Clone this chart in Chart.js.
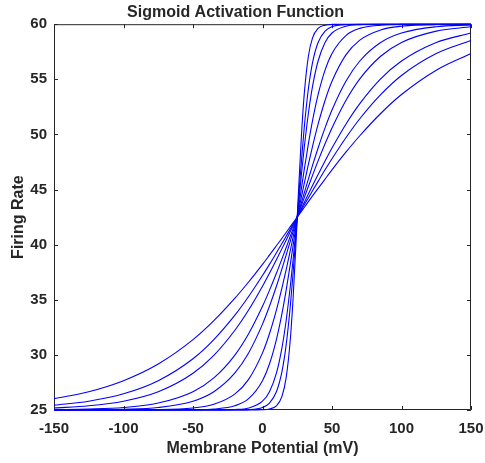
<!DOCTYPE html>
<html>
<head>
<meta charset="utf-8">
<title>Sigmoid Activation Function</title>
<script src="https://cdn.jsdelivr.net/npm/chart.js@4/dist/chart.umd.min.js"></script>
<style>
  html, body { margin: 0; padding: 0; background: #ffffff; }
  canvas { display: block; }
</style>
</head>
<body>
<canvas id="chart" width="485" height="463"></canvas>
<script>
// membrane potential samples (mV), denser around the midpoint
const potentials = [-150, -125, -100, -75, -50, -35, -20, -10, 0, 5, 10, 14, 17, 20, 22, 24, 25, 26, 28, 30, 33, 36, 40, 45, 50, 60, 70, 85, 100, 125, 150];

// firing rate per curve, shallowest to steepest
const rateSlope50 = [26.03, 26.66, 27.66, 29.17, 31.38, 33.10, 35.12, 36.61, 38.21, 39.05, 39.90, 40.58, 41.10, 41.63, 41.98, 42.33, 42.5, 42.67, 43.02, 43.37, 43.90, 44.42, 45.10, 45.95, 46.79, 48.39, 49.88, 51.90, 53.62, 55.83, 57.34];
const rateSlope40 = [25.44, 25.80, 26.47, 27.66, 29.65, 31.39, 33.58, 35.30, 37.20, 38.21, 39.26, 40.11, 40.76, 41.41, 41.84, 42.28, 42.5, 42.72, 43.16, 43.59, 44.24, 44.89, 45.74, 46.79, 47.80, 49.70, 51.42, 53.61, 55.35, 57.34, 58.53];
const rateSlope33 = [25.18, 25.38, 25.80, 26.66, 28.34, 29.96, 32.21, 34.07, 36.23, 37.40, 38.63, 39.64, 40.41, 41.19, 41.71, 42.24, 42.5, 42.76, 43.29, 43.81, 44.59, 45.36, 46.37, 47.60, 48.77, 50.93, 52.79, 55.04, 56.66, 58.34, 59.20];
const rateSlope25 = [25.03, 25.09, 25.23, 25.63, 26.66, 27.91, 29.96, 31.92, 34.41, 35.85, 37.40, 38.71, 39.72, 40.76, 41.45, 42.15, 42.5, 42.85, 43.55, 44.24, 45.28, 46.29, 47.60, 49.15, 50.59, 53.08, 55.04, 57.09, 58.34, 59.37, 59.77];
const rateSlope20 = [25.01, 25.02, 25.07, 25.23, 25.80, 26.66, 28.34, 30.18, 32.79, 34.41, 36.23, 37.81, 39.05, 40.32, 41.19, 42.06, 42.5, 42.94, 43.81, 44.68, 45.95, 47.19, 48.77, 50.59, 52.21, 54.82, 56.66, 58.34, 59.20, 59.77, 59.93];
const rateSlope14 = [25.00, 25.00, 25.01, 25.03, 25.18, 25.52, 26.44, 27.78, 30.18, 31.92, 34.07, 36.08, 37.72, 39.47, 40.67, 41.89, 42.5, 43.11, 44.33, 45.53, 47.28, 48.92, 50.93, 53.08, 54.82, 57.22, 58.56, 59.48, 59.82, 59.97, 59.99];
const rateSlope10 = [25.00, 25.00, 25.00, 25.00, 25.02, 25.09, 25.38, 26.03, 27.66, 29.17, 31.39, 33.74, 35.85, 38.21, 39.89, 41.63, 42.5, 43.37, 45.11, 46.79, 49.15, 51.26, 53.61, 55.83, 57.34, 58.97, 59.62, 59.91, 59.98, 60.00, 60.00];
const rateSlope7 = [25.00, 25.00, 25.00, 25.00, 25.00, 25.00, 25.04, 25.18, 25.80, 26.66, 28.34, 30.64, 33.10, 36.23, 38.63, 41.19, 42.5, 43.81, 46.37, 48.77, 51.90, 54.36, 56.66, 58.34, 59.20, 59.82, 59.96, 60.00, 60.00, 60.00, 60.00];
const rateSlope5 = [25.00, 25.00, 25.00, 25.00, 25.00, 25.00, 25.00, 25.03, 25.23, 25.63, 26.66, 28.49, 30.88, 34.41, 37.40, 40.76, 42.5, 44.24, 47.60, 50.59, 54.12, 56.51, 58.34, 59.37, 59.77, 59.97, 60.00, 60.00, 60.00, 60.00, 60.00];
const rateSlope3 = [25.00, 25.00, 25.00, 25.00, 25.00, 25.00, 25.00, 25.00, 25.02, 25.09, 25.38, 26.24, 27.91, 31.39, 35.12, 39.89, 42.5, 45.11, 49.88, 53.61, 57.09, 58.76, 59.62, 59.91, 59.98, 60.00, 60.00, 60.00, 60.00, 60.00, 60.00];

const allRates = [rateSlope50, rateSlope40, rateSlope33, rateSlope25, rateSlope20, rateSlope14, rateSlope10, rateSlope7, rateSlope5, rateSlope3];

const xTicks = [-150, -100, -50, 0, 50, 100, 150];
const yTicks = [25, 30, 35, 40, 45, 50, 55, 60];

const textColor = "#262626";
const fontFamily = "'Liberation Sans', Arial, Helvetica, sans-serif";

// MATLAB-style box with inward tick marks on all four sides
const boxTicks = {
  id: "boxTicks",
  beforeDatasetsDraw(chart) {
    const { ctx, chartArea: a, scales } = chart;
    const len = 4;
    ctx.save();
    ctx.strokeStyle = textColor;
    ctx.lineWidth = 1;
    ctx.beginPath();
    ctx.rect(a.left + 0.5, a.top + 0.5, a.right - a.left - 1, a.bottom - a.top - 1);
    xTicks.forEach((v) => {
      const px = Math.round(scales.x.getPixelForValue(v)) + 0.5;
      ctx.moveTo(px, a.bottom);
      ctx.lineTo(px, a.bottom - len);
      ctx.moveTo(px, a.top);
      ctx.lineTo(px, a.top + len);
    });
    yTicks.forEach((v) => {
      const py = Math.round(scales.y.getPixelForValue(v)) + 0.5;
      ctx.moveTo(a.left, py);
      ctx.lineTo(a.left + len, py);
      ctx.moveTo(a.right, py);
      ctx.lineTo(a.right - len, py);
    });
    ctx.stroke();
    ctx.restore();
  },
};

new Chart(document.getElementById("chart"), {
  type: "line",
  data: {
    datasets: allRates.map((rates) => ({
      data: potentials.map((x, i) => ({ x, y: rates[i] })),
      borderColor: "#0000ff",
      borderWidth: 1.1,
      pointRadius: 0,
      cubicInterpolationMode: "monotone",
      clip: 3,
    })),
  },
  options: {
    responsive: false,
    animation: false,
    events: [],
    layout: { padding: { top: 0, right: 14, bottom: 0, left: 0 } },
    plugins: {
      legend: { display: false },
      tooltip: { enabled: false },
      title: {
        display: true,
        text: "Sigmoid Activation Function",
        color: textColor,
        font: { family: fontFamily, size: 16, weight: "bold" },
        padding: { top: 3, bottom: 2 },
      },
    },
    scales: {
      x: {
        type: "linear",
        min: -150,
        max: 150,
        afterFit: (scale) => {
          scale.height = 53;
          scale.paddingLeft = 0;
          scale.paddingRight = 0;
        },
        afterBuildTicks: (scale) => { scale.ticks = xTicks.map((value) => ({ value })); },
        grid: { display: false, drawTicks: false },
        border: { display: false },
        ticks: {
          color: textColor,
          padding: 10,
          maxRotation: 0,
          font: { family: fontFamily, size: 15, weight: "bold" },
        },
        title: {
          display: true,
          text: "Membrane Potential (mV)",
          color: textColor,
          font: { family: fontFamily, size: 16, weight: "bold" },
          padding: { top: 0, bottom: 5 },
        },
      },
      y: {
        type: "linear",
        min: 25,
        max: 60,
        afterFit: (scale) => {
          scale.width = 54;
          scale.paddingTop = 0;
          scale.paddingBottom = 0;
        },
        afterBuildTicks: (scale) => { scale.ticks = yTicks.map((value) => ({ value })); },
        grid: { display: false, drawTicks: false },
        border: { display: false },
        ticks: {
          color: textColor,
          padding: 7,
          font: { family: fontFamily, size: 15, weight: "bold" },
        },
        title: {
          display: true,
          text: "Firing Rate",
          color: textColor,
          font: { family: fontFamily, size: 16, weight: "bold" },
          padding: { top: 9, bottom: 0 },
        },
      },
    },
  },
  plugins: [boxTicks],
});
</script>
</body>
</html>
